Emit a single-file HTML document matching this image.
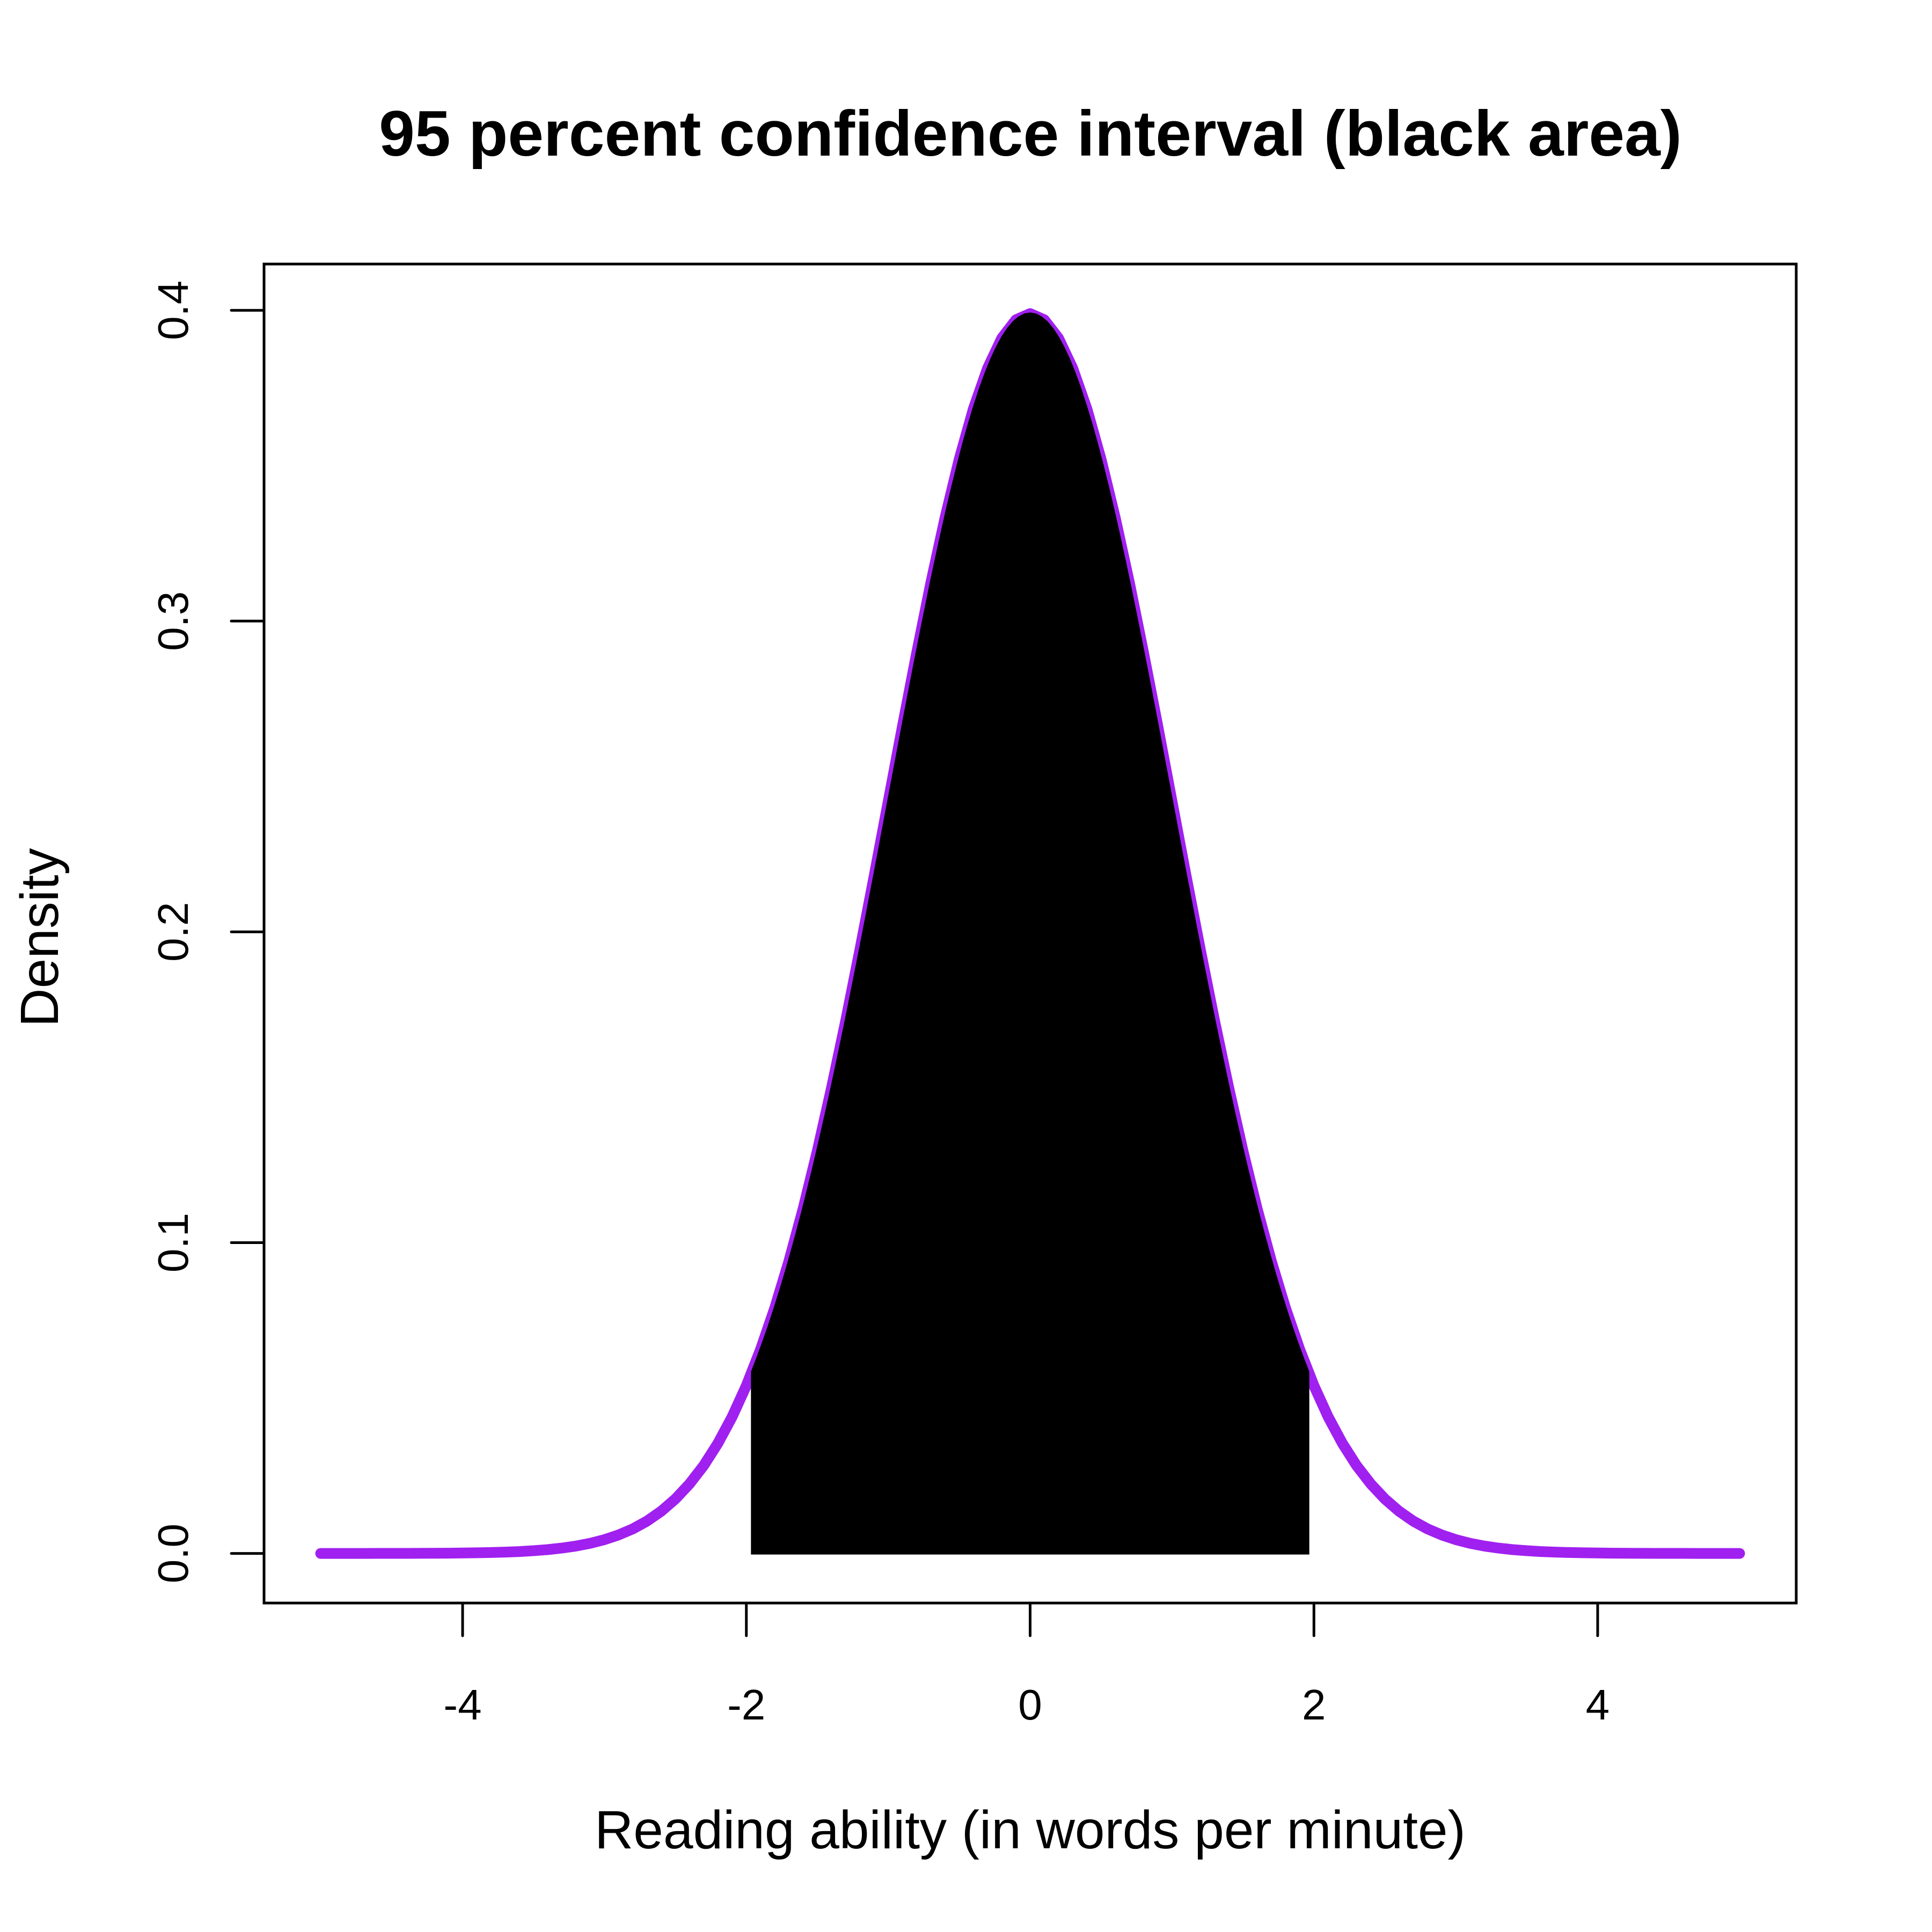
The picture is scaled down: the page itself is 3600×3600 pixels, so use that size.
<!DOCTYPE html>
<html><head><meta charset="utf-8"><style>
html,body{margin:0;padding:0;background:#fff;}
svg{display:block;}
text{font-family:"Liberation Sans",Arial,sans-serif;fill:#000;}
</style></head><body>
<svg id="s" width="3600" height="3600" viewBox="0 0 3600 3600" xmlns="http://www.w3.org/2000/svg">
<rect width="3600" height="3600" fill="#fff"/>
<path id="curve" fill="none" stroke="#A020F0" stroke-width="20" stroke-linecap="round" stroke-linejoin="round"/>
<path id="poly" fill="#000" stroke="#000" stroke-width="4"/>
<rect x="492" y="492" width="2855" height="2495" fill="none" stroke="#000" stroke-width="5"/>
<g stroke="#000" stroke-width="5" stroke-linecap="round">
<line x1="862" y1="2987" x2="862" y2="3048"/>
<line x1="1390.7" y1="2987" x2="1390.7" y2="3048"/>
<line x1="1919.5" y1="2987" x2="1919.5" y2="3048"/>
<line x1="2448.3" y1="2987" x2="2448.3" y2="3048"/>
<line x1="2977" y1="2987" x2="2977" y2="3048"/>
<line x1="492" y1="2894.6" x2="431" y2="2894.6"/>
<line x1="492" y1="2315.5" x2="431" y2="2315.5"/>
<line x1="492" y1="1736.4" x2="431" y2="1736.4"/>
<line x1="492" y1="1157.3" x2="431" y2="1157.3"/>
<line x1="492" y1="578.2" x2="431" y2="578.2"/>
</g>
<g font-size="80" text-anchor="middle">
<text x="862" y="3204">-4</text>
<text x="1390.7" y="3204">-2</text>
<text x="1919.5" y="3204">0</text>
<text x="2448.3" y="3204">2</text>
<text x="2977" y="3204">4</text>
<text transform="translate(350,2894.6) rotate(-90)">0.0</text>
<text transform="translate(350,2315.5) rotate(-90)">0.1</text>
<text transform="translate(350,1736.4) rotate(-90)">0.2</text>
<text transform="translate(350,1157.3) rotate(-90)">0.3</text>
<text transform="translate(350,578.2) rotate(-90)">0.4</text>
</g>
<text x="1919.5" y="3444" font-size="100" text-anchor="middle">Reading ability (in words per minute)</text>
<text transform="translate(108,1747) rotate(-90)" font-size="100" text-anchor="middle">Density</text>
<text x="1920" y="290" font-size="120" font-weight="bold" text-anchor="middle">95 percent confidence interval (black area)</text>
</svg>
<script>
function X(v){return 1919.5+v*264.4;}
function Y(v){return 2894.6-v*5791;}
function d(x){return Math.exp(-x*x/2)/Math.sqrt(2*Math.PI);}
var p="";
for(var i=0;i<=100;i++){var x=-5+i*0.1;p+=(i?"L":"M")+X(x).toFixed(1)+","+Y(d(x)).toFixed(1);}
document.getElementById("curve").setAttribute("d",p);
var q="M"+X(-1.96).toFixed(1)+","+Y(0).toFixed(1);
for(var i=0;i<=100;i++){var x=-1.96+i*0.0392;q+="L"+X(x).toFixed(1)+","+Y(d(x)).toFixed(1);}
q+="L"+X(1.96).toFixed(1)+","+Y(0).toFixed(1)+"Z";
document.getElementById("poly").setAttribute("d",q);
</script>
</body></html>
